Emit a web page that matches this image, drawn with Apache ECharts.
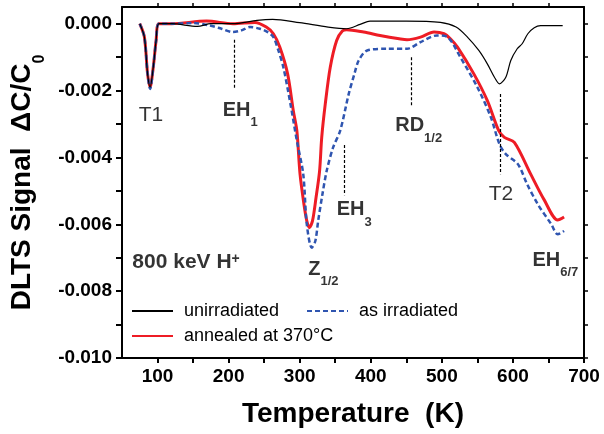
<!DOCTYPE html>
<html>
<head>
<meta charset="utf-8">
<script src="https://cdn.jsdelivr.net/npm/echarts@6/dist/echarts.min.js"></script>
<style>
  html, body { margin: 0; padding: 0; background: #fff; }
  #chart { width: 604px; height: 434px; }
</style>
</head>
<body>
<div id="chart"></div>
<script>
// Data (temperature in K, signal in dC/C0)
const tempUnirr = [75, 81.5, 86, 89.5, 94, 98, 102, 120, 156, 175, 206, 240, 262, 300, 340, 366, 385, 399, 450, 498, 520, 536, 552, 564, 574, 581, 590, 597, 606, 613, 621, 630, 639, 670];
const sigUnirr = [0, -0.0004, -0.0015, -0.0019, -0.0013, -0.0005, 0, 0, -0.00008, 0, 0, 0.0001, 0.00013, 0.00003, -0.0001, -0.00015, -0.00002, 0.00008, 0.00008, 0.00004, -0.0001, -0.0004, -0.0008, -0.0012, -0.0016, -0.0018, -0.0016, -0.0011, -0.00075, -0.0006, -0.0003, -0.00012, -0.00006, -0.00006];

const tempIrr = [75, 81.5, 86, 89.5, 94, 98, 102, 120, 150, 173, 190, 206, 218, 230, 244, 255, 263, 270, 277, 287, 296, 305, 310, 317, 322, 326, 332, 338, 347, 357, 369, 377, 383, 395, 423, 451, 470, 493, 508, 526, 550, 569, 581, 590, 607, 620, 635, 654, 663, 672];
const sigIrr = [0, -0.0004, -0.0015, -0.00195, -0.0013, -0.0005, 0, 0, 0.00002, -0.00005, -0.00015, -0.00025, -0.0002, -0.0001, -0.00015, -0.00025, -0.0004, -0.0008, -0.0013, -0.0024, -0.0035, -0.0045, -0.006, -0.0067, -0.0065, -0.0059, -0.0051, -0.0044, -0.0037, -0.0032, -0.0021, -0.0015, -0.0011, -0.0008, -0.00075, -0.00075, -0.00055, -0.00035, -0.0004, -0.001, -0.0019, -0.0028, -0.0036, -0.0039, -0.0042, -0.0048, -0.0054, -0.006, -0.0063, -0.0062];

const tempAnneal = [75, 81.5, 86, 89.5, 94, 98, 102, 120, 169, 206, 237, 253, 263, 272, 283, 291, 296, 300.5, 306, 310, 313.6, 318, 323, 328, 331, 336, 343, 352, 360, 366, 390, 413, 440, 451, 470, 489, 503, 512, 522, 545, 564, 580, 588, 602, 625, 644, 663, 672];
const sigAnneal = [0, -0.0004, -0.0015, -0.0019, -0.0013, -0.0005, 0, 0, 0.00008, 0, 0.00004, -0.0001, -0.0003, -0.0007, -0.0015, -0.0026, -0.0032, -0.0045, -0.0054, -0.0059, -0.0061, -0.0059, -0.0052, -0.0044, -0.0034, -0.0024, -0.0013, -0.0005, -0.00022, -0.00018, -0.00025, -0.00035, -0.00045, -0.00048, -0.0004, -0.00025, -0.0003, -0.00045, -0.0007, -0.0015, -0.0023, -0.0032, -0.0034, -0.00355, -0.0045, -0.00527, -0.00587, -0.00578];

// peak labels (top-left corner of the text, in data units)
const labelTexts = ['{n|T1}', '{b|EH}{s|1}', '{b|EH}{s|3}', '{b|Z}{s|1/2}', '{b|RD}{s|1/2}', '{n|T2}', '{b|EH}{s|6/7}', '{h|800 keV H}{p|+}'];
const labelTemps = [73.4, 191.6, 352, 312, 434.4, 566, 627.4, 64.6];
const labelSignals = [-0.00241, -0.00229, -0.00527, -0.00704, -0.00275, -0.0048, -0.00678, -0.00683];

// dashed peak markers
const markerTemps = [208.6, 362, 457, 581.5];
const markerTop = [-0.00048, -0.00363, -0.0010, -0.0021];
const markerBottom = [-0.00193, -0.00513, -0.0025, -0.0045];

// axis ranges and ticks
const xRange = [50, 700];
const yRange = [-0.010, 0.0005];
const xLabels = [100, 200, 300, 400, 500, 600, 700];
const xTicks = [100, 150, 200, 250, 300, 350, 400, 450, 500, 550, 600, 650, 700];
const xTopTicks = [100, 150, 200, 250, 300, 350, 400, 450, 500, 550, 600, 650];
const yLabels = [-0.010, -0.008, -0.006, -0.004, -0.002, 0];
const yTicks = [-0.010, -0.009, -0.008, -0.007, -0.006, -0.005, -0.004, -0.003, -0.002, -0.001, 0];

const FONT = '"Liberation Sans", Arial, sans-serif';
const chart = echarts.init(document.getElementById('chart'));

function pairs(xs, ys) {
  return xs.map((x, i) => [x, ys[i]]);
}

// top/right axes only carry the frame ticks
function frameAxis(position, values, range) {
  return {
    type: 'value', position: position, min: range[0], max: range[1],
    axisLine: { show: true, onZero: false, lineStyle: { color: '#000', width: 2 } },
    axisTick: { show: true, customValues: values, length: 4, lineStyle: { color: '#000', width: 1.5 } },
    axisLabel: { show: false }, splitLine: { show: false }
  };
}

// dashed peak markers plus the solid top and right edges of the plot frame
const frameStyle = { type: 'solid', width: 2, color: '#000' };
const markLines = markerTemps.map((t, i) => [{ coord: [t, markerTop[i]] }, { coord: [t, markerBottom[i]] }]);
markLines.push([{ coord: [xRange[0], yRange[1]], lineStyle: frameStyle }, { coord: [xRange[1], yRange[1]] }]);
markLines.push([{ coord: [xRange[1], yRange[0]], lineStyle: frameStyle }, { coord: [xRange[1], yRange[1]] }]);

const legendBase = {
  padding: 0, itemWidth: 41, itemHeight: 14,
  itemStyle: { color: 'transparent', borderWidth: 0, opacity: 0 },
  textStyle: { fontFamily: FONT, fontSize: 18, color: '#000', padding: [0, 0, 0, 6] }
};

chart.setOption({
  animation: false,
  grid: { left: 122, right: 20, top: 7, bottom: 76, outerBoundsMode: 'none' },
  legend: [
    Object.assign({ left: 131, top: 302, data: ['unirradiated'] }, legendBase),
    Object.assign({ left: 306, top: 302, data: ['as irradiated'] }, legendBase),
    Object.assign({ left: 131, top: 327, data: ['annealed at 370°C'] }, legendBase)
  ],
  xAxis: [
    {
      type: 'value', position: 'bottom', min: xRange[0], max: xRange[1],
      axisLine: { show: true, onZero: false, lineStyle: { color: '#000', width: 2 } },
      axisTick: { show: true, customValues: xTicks, length: 5, lineStyle: { color: '#000', width: 2 } },
      axisLabel: { customValues: xLabels, margin: 9, fontFamily: FONT, fontSize: 19, fontWeight: 'bold', color: '#000' },
      splitLine: { show: false },
      name: 'Temperature  (K)', nameLocation: 'middle', nameGap: 42,
      nameTextStyle: { fontFamily: FONT, fontSize: 28, fontWeight: 'bold', color: '#000', lineHeight: 28 }
    },
    frameAxis('top', xTopTicks, xRange)
  ],
  yAxis: [
    {
      type: 'value', position: 'left', min: yRange[0], max: yRange[1],
      axisLine: { show: true, onZero: false, lineStyle: { color: '#000', width: 2 } },
      axisTick: { show: true, customValues: yTicks, length: 6, lineStyle: { color: '#000', width: 2 } },
      axisLabel: {
        customValues: yLabels, margin: 10, fontFamily: FONT, fontSize: 19, fontWeight: 'bold', color: '#000',
        formatter: v => (Math.abs(v) < 1e-9 ? 0 : v).toFixed(3)
      },
      splitLine: { show: false },
      name: '{m|DLTS Signal  ΔC/C}{s|0}', nameLocation: 'middle', nameGap: 72, nameRotate: 90,
      nameTextStyle: {
        rich: {
          m: { fontFamily: FONT, fontSize: 28, fontWeight: 'bold', color: '#000', lineHeight: 28, verticalAlign: 'top' },
          s: { fontFamily: FONT, fontSize: 16, fontWeight: 'bold', color: '#000', lineHeight: 16, padding: [23, 0, 0, 0], verticalAlign: 'top' }
        }
      }
    },
    frameAxis('right', yTicks, yRange)
  ],
  series: [
    {
      name: 'annealed at 370°C', type: 'line', data: pairs(tempAnneal, sigAnneal),
      symbol: 'none', smooth: 0.3, silent: true,
      lineStyle: { color: '#ee1c25', width: 3 }, itemStyle: { color: '#ee1c25' }
    },
    {
      name: 'as irradiated', type: 'line', data: pairs(tempIrr, sigIrr),
      xAxisIndex: 1, yAxisIndex: 1,
      symbol: 'none', smooth: 0.3, silent: true,
      lineStyle: { color: '#2f55b0', width: 2.5, type: [5, 3] }, itemStyle: { color: '#2f55b0' }
    },
    {
      name: 'unirradiated', type: 'line', data: pairs(tempUnirr, sigUnirr),
      symbol: 'none', smooth: 0.3, silent: true, clip: false,
      lineStyle: { color: '#000', width: 1.2 }, itemStyle: { color: '#000' },
      markLine: {
        silent: true, symbol: ['none', 'none'], label: { show: false },
        lineStyle: { color: '#000', width: 1.2, type: [3, 2] },
        data: markLines
      }
    },
    {
      name: 'labels', type: 'scatter', data: pairs(labelTemps, labelSignals),
      symbol: 'circle', symbolSize: 0.01, silent: true, clip: false,
      itemStyle: { color: 'transparent' },
      label: {
        show: true, position: [0, 0], align: 'left', verticalAlign: 'top',
        formatter: p => labelTexts[p.dataIndex],
        rich: {
          n: { fontFamily: FONT, fontSize: 21, color: '#000', lineHeight: 20, verticalAlign: 'top' },
          b: { fontFamily: FONT, fontSize: 20, fontWeight: 'bold', color: '#000', lineHeight: 20, verticalAlign: 'top' },
          h: { fontFamily: FONT, fontSize: 21, fontWeight: 'bold', color: '#000', lineHeight: 20, verticalAlign: 'top' },
          s: { fontFamily: FONT, fontSize: 13, fontWeight: 'bold', color: '#000', lineHeight: 13, padding: [16, 0, 0, 0], verticalAlign: 'top' },
          p: { fontFamily: FONT, fontSize: 14, fontWeight: 'bold', color: '#000', lineHeight: 14, verticalAlign: 'top' }
        }
      }
    }
  ]
});
</script>
</body>
</html>
